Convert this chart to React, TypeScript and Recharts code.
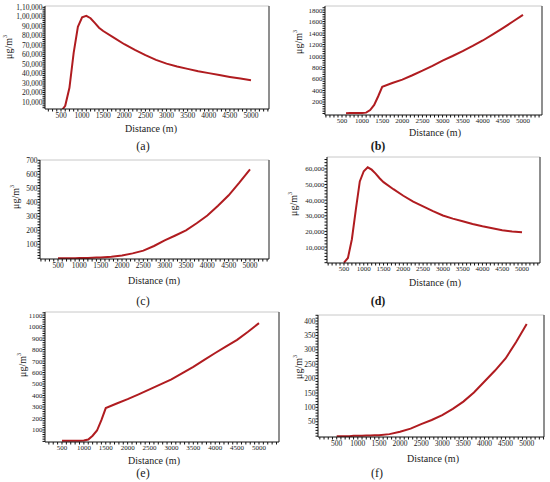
import React from 'react'
import { LineChart, Line, XAxis, YAxis, ReferenceLine } from 'recharts'

// distances (m) sampled along the plume centre line
const distances = [
  500, 600, 700, 800, 900, 1000, 1100, 1200, 1300, 1400, 1500, 1750, 2000,
  2250, 2500, 2750, 3000, 3250, 3500, 3750, 4000, 4250, 4500, 4750, 5000
]

// concentrations (µg/m3)
const valuesA = [
  0, 6000, 25000, 62000, 89500, 99500, 101000, 98500, 93500, 88500, 85000,
  78000, 71000, 65000, 59500, 54500, 50500, 47500, 45000, 42500, 40500,
  38500, 36500, 34700, 33000
]
const valuesB = [
  null, 5, 8, 8, 8, 8, 15, 60, 150, 300, 465, 530, 590, 665, 745, 830, 920,
  1000, 1085, 1175, 1270, 1375, 1485, 1600, 1715
]
const valuesC = [
  0, 0, 0, 1, 1, 2, 2, 3, 4, 5, 6, 11, 20, 35, 55, 88, 128, 163, 200, 250,
  305, 375, 450, 540, 635
]
const valuesD = [
  0, 3000, 15000, 34000, 52000, 58500, 61000, 59500, 57000, 54000, 51500,
  47000, 42800, 39000, 36000, 33000, 30200, 28200, 26500, 24800, 23300,
  22000, 20800, 20000, 19500
]
const valuesE = [
  5, 5, 5, 5, 5, 8, 17, 50, 95, 185, 290, 330, 368, 410, 454, 497, 540, 595,
  650, 710, 770, 828, 885, 955, 1030
]
const valuesF = [
  0, 0, 0, 0, 1, 1, 1, 2, 2, 3, 3, 7, 15, 26, 42, 56, 73, 95, 120, 152, 190,
  228, 270, 327, 390
]

// tick labels
const xMajor = [500, 1000, 1500, 2000, 2500, 3000, 3500, 4000, 4500, 5000]
const yTicksA = [10000, 20000, 30000, 40000, 50000, 60000, 70000, 80000, 90000, 100000, 110000]
const yTicksB = [200, 400, 600, 800, 1000, 1200, 1400, 1600, 1800]
const yTicksC = [100, 200, 300, 400, 500, 600, 700]
const yTicksD = [10000, 20000, 30000, 40000, 50000, 60000]
const yTicksE = [100, 200, 300, 400, 500, 600, 700, 800, 900, 1000, 1100]
const yTicksF = [50, 100, 150, 200, 250, 300, 350, 400]

const RED = '#b01c20'
const FONT = '"Liberation Serif", "Times New Roman", serif'

// indian style grouping: 1,10,000
const inr = (v: number) => {
  const s = String(Math.round(v))
  if (s.length <= 3) return s
  const last3 = s.slice(-3)
  let rest = s.slice(0, -3)
  const parts: string[] = []
  while (rest.length > 2) {
    parts.unshift(rest.slice(-2))
    rest = rest.slice(0, -2)
  }
  if (rest) parts.unshift(rest)
  return parts.join(',') + ',' + last3
}

// minor ticks between labelled ones
const withMinor = (major: number[], lo: number, hi: number, n: number) => {
  const step = (major[1] - major[0]) / n
  const out: number[] = []
  let t = major[0]
  while (t - step >= lo) t -= step
  for (; t <= hi; t += step) out.push(Math.round(t * 1000) / 1000)
  return out
}

const panels = [
  {
    key: 'a', values: valuesA, yTicks: yTicksA, fmt: inr,
    frame: [45, 6, 269, 109], xDom: [121, 5427], yDom: [2600, 111400],
    cap: [143, 146], capBold: false, dist: [151, 128], ylab: [8, 47], font: 7.5
  },
  {
    key: 'b', values: valuesB, yTicks: yTicksB, fmt: String,
    frame: [325, 6, 542, 115], xDom: [77, 5473], yDom: [-26, 1870],
    cap: [378, 146], capBold: true, dist: [435, 132], ylab: [298, 42], font: 7
  },
  {
    key: 'c', values: valuesC, yTicks: yTicksC, fmt: String,
    frame: [40, 160, 269, 259], xDom: [78, 5445], yDom: [-5, 702],
    cap: [143, 301], capBold: false, dist: [154, 280], ylab: [15, 197], font: 7.5
  },
  {
    key: 'd', values: valuesD, yTicks: yTicksD, fmt: inr,
    frame: [327, 157, 540, 263], xDom: [71, 5455], yDom: [-200, 67600],
    cap: [378, 301], capBold: true, dist: [435, 282], ylab: [293, 204], font: 7
  },
  {
    key: 'e', values: valuesE, yTicks: yTicksE, fmt: String,
    frame: [45, 312, 279, 442], xDom: [112, 5457], yDom: [-5, 1127],
    cap: [143, 473], capBold: false, dist: [154, 460], ylab: [22, 365], font: 7
  },
  {
    key: 'f', values: valuesF, yTicks: yTicksF, fmt: String,
    frame: [318, 315, 544, 437], xDom: [57, 5410], yDom: [-3, 421],
    cap: [377, 473], capBold: false, dist: [433, 458], ylab: [298, 367], font: 7.5
  }
]

const L = 45
const T = 3
const R = 3
const B = 16

function Panel({ p }: { p: (typeof panels)[number] }) {
  const [x0, y0, x1, y1] = p.frame
  const rows = distances.map((d, i) => ({ d, v: p.values[i] }))
  const xTicks = withMinor(xMajor, p.xDom[0], p.xDom[1], 5)
  const yTicks = withMinor(p.yTicks, p.yDom[0], p.yDom[1], 5)
  const xMajorSet = new Set(xMajor)
  const yMajorSet = new Set(p.yTicks)
  const tickStyle = { fontSize: p.font, fill: '#1a1a1a', fontFamily: FONT }
  return (
    <>
      <div style={{ position: 'absolute', left: x0 - L, top: y0 - T }}>
        <LineChart
          width={x1 - x0 + L + R}
          height={y1 - y0 + T + B}
          data={rows}
          margin={{ top: T, right: R, left: 0, bottom: 0 }}
        >
          <XAxis
            dataKey='d'
            type='number'
            domain={p.xDom}
            allowDataOverflow
            ticks={xTicks}
            interval={0}
            height={B}
            tickSize={2.5}
            tickMargin={1}
            stroke='#111'
            tick={tickStyle}
            tickFormatter={(v: number) => (xMajorSet.has(v) ? String(v) : '')}
          />
          <YAxis
            type='number'
            domain={p.yDom}
            allowDataOverflow
            ticks={yTicks}
            interval={0}
            width={L}
            tickSize={2.5}
            tickMargin={0}
            stroke='#111'
            tick={tickStyle}
            tickFormatter={(v: number) => (yMajorSet.has(v) ? p.fmt(v) : '')}
          />
          <ReferenceLine y={p.yDom[1]} stroke='#c8c8c8' strokeWidth={1} />
          <ReferenceLine x={p.xDom[1]} stroke='#6a6a6a' strokeWidth={1.5} />
          <Line
            type='linear'
            dataKey='v'
            stroke={RED}
            strokeWidth={2}
            dot={false}
            isAnimationActive={false}
          />
        </LineChart>
      </div>
      <div
        style={{
          position: 'absolute', left: p.dist[0], top: p.dist[1],
          transform: 'translate(-50%, -50%)', fontSize: 10, whiteSpace: 'nowrap', color: '#1a1a1a'
        }}
      >
        Distance (m)
      </div>
      <div
        style={{
          position: 'absolute', left: p.ylab[0], top: p.ylab[1],
          transform: 'translate(-50%, -50%) rotate(-90deg)', fontSize: 10,
          whiteSpace: 'nowrap', color: '#1a1a1a', lineHeight: 1
        }}
      >
        μg/m<sup style={{ fontSize: 6 }}>3</sup>
      </div>
      <div
        style={{
          position: 'absolute', left: p.cap[0], top: p.cap[1],
          transform: 'translate(-50%, -50%)', fontSize: 12,
          fontWeight: p.capBold ? 'bold' : 'normal', color: '#1a1a1a'
        }}
      >
        ({p.key})
      </div>
    </>
  )
}

export default function App() {
  return (
    <div
      style={{
        position: 'absolute', left: 0, top: 0, width: 550, height: 482,
        background: '#fff', fontFamily: FONT, overflow: 'hidden'
      }}
    >
      {panels.map((p) => (
        <Panel key={p.key} p={p} />
      ))}
    </div>
  )
}
